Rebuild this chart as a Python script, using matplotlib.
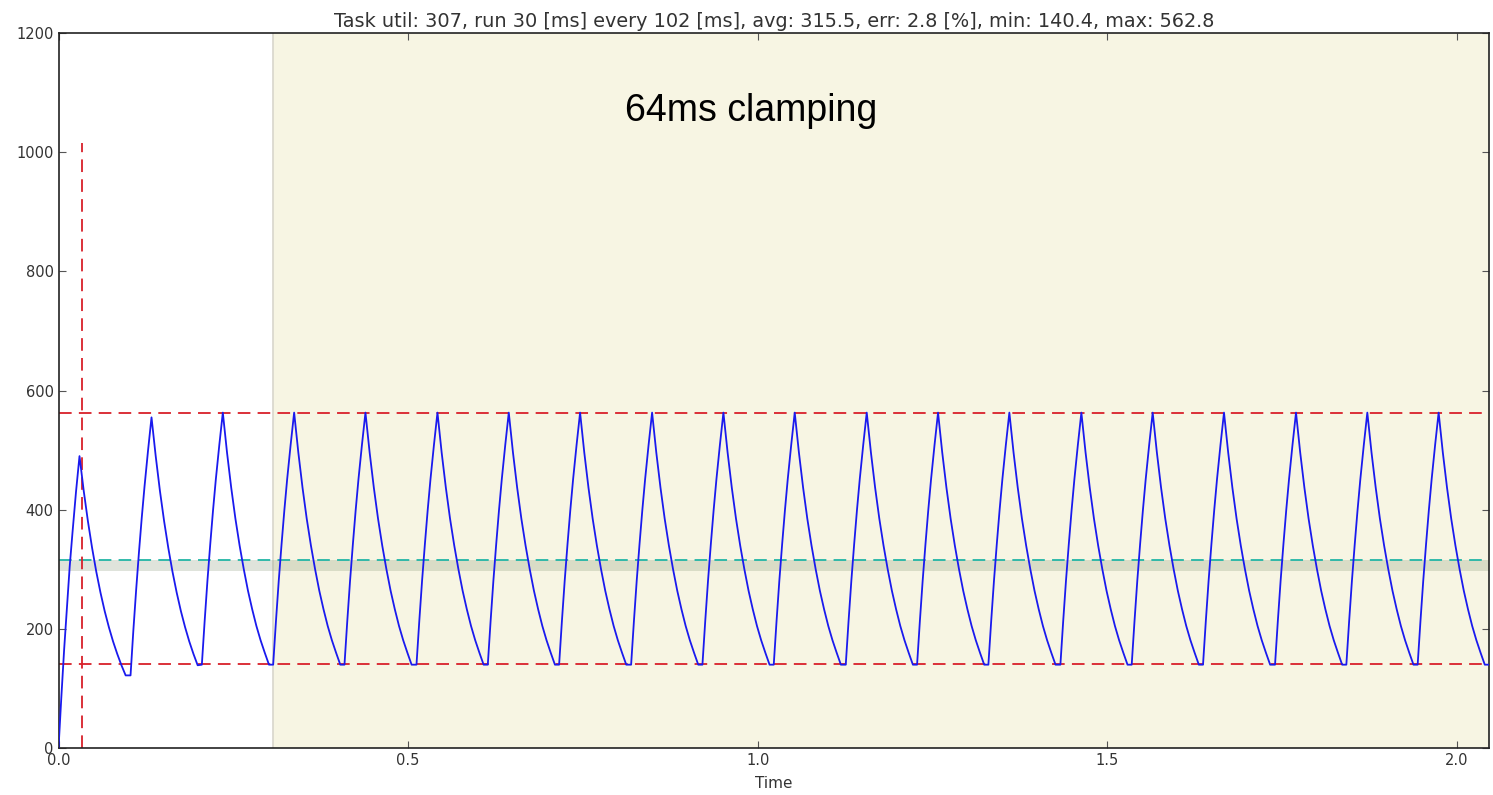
import matplotlib
matplotlib.use("Agg")
import matplotlib.pyplot as plt
import numpy as np

# time offsets inside one 102 ms activation (seconds)
offsets = [0.000, 0.004, 0.008, 0.012, 0.016, 0.020, 0.025, 0.030,
           0.036, 0.042, 0.048, 0.054, 0.060, 0.066, 0.072, 0.078,
           0.084, 0.090, 0.096]

# util for first two cycles and the steady state
util_first = [0, 85, 165, 235, 305, 362, 430, 490,
              432, 381, 336, 296, 261, 230, 203, 179, 158, 139, 122]
util_second = [122, 197, 265, 328, 386, 439, 499, 555,
               490, 432, 381, 336, 296, 261, 230, 203, 179, 158, 139]
util_steady = [140, 213, 281, 342, 399, 451, 509, 563,
               496, 437, 385, 340, 300, 264, 233, 205, 181, 160, 140]

cycle_starts = [0.000, 0.103, 0.205, 0.307, 0.409, 0.512, 0.614, 0.716,
                0.819, 0.921, 1.023, 1.126, 1.228, 1.330, 1.433, 1.535,
                1.637, 1.740, 1.842, 1.944]
t_end = 2.046
util_end = 140

target = 307
avg = 315.5
u_min = 140.4
u_max = 562.8
start_marker = 0.034
analysis_start = 0.3064

t = []
u = []
for i, s in enumerate(cycle_starts):
    if i == 0:
        vals = util_first
    elif i == 1:
        vals = util_second
    else:
        vals = util_steady
    for o, v in zip(offsets, vals):
        t.append(s + o)
        u.append(v)
t.append(t_end)
u.append(util_end)

fig = plt.figure(figsize=(14.93, 7.95), dpi=100)
ax = fig.add_axes([0.0392, 0.059, 0.9581, 0.8995])

ax.axvspan(analysis_start, t_end, color="#f7f5e3", lw=0, zorder=0)
ax.axvline(analysis_start, color="#d8d6cc", lw=1.2, zorder=1)
ax.axhspan(target * 0.97, target * 1.03, color="#8a9a7a", alpha=0.27, lw=0, zorder=1)

ax.plot(t, u, c="#1a1aee", lw=1.3, zorder=3)

ax.axhline(avg, color="#22b5a5", ls="--", dashes=(7, 4), lw=1.3, zorder=2)
ax.axhline(u_max, color="#d8202a", ls="--", dashes=(7, 4), lw=1.3, zorder=2)
ax.axhline(u_min, color="#d8202a", ls="--", dashes=(7, 4), lw=1.3, zorder=2)
ax.plot([start_marker, start_marker], [0, 1015], color="#d8202a", ls="--",
        dashes=(7, 4), lw=1.3, zorder=2)

ax.text(0.81, 1053, "64ms clamping", fontsize=27, family="Liberation Sans",
        color="black")

ax.set_xlim(0, t_end)
ax.set_ylim(0, 1200)
ax.set_xticks([0.0, 0.5, 1.0, 1.5, 2.0])
ax.set_yticks([0, 200, 400, 600, 800, 1000, 1200])
ax.tick_params(direction="in", top=True, right=True, length=5, labelsize=10.5,
               labelcolor="#333333", color="#555555")
ax.set_xlabel("Time", fontsize=11, color="#333333", labelpad=6)
ax.set_title("Task util: 307, run 30 [ms] every 102 [ms], avg: 315.5, err: 2.8 [%], "
             "min: 140.4, max: 562.8", fontsize=13.9, color="#333333", pad=4)
for sp in ax.spines.values():
    sp.set_linewidth(1.2)
    sp.set_color("#222222")

fig.savefig("out.png", dpi=100)
